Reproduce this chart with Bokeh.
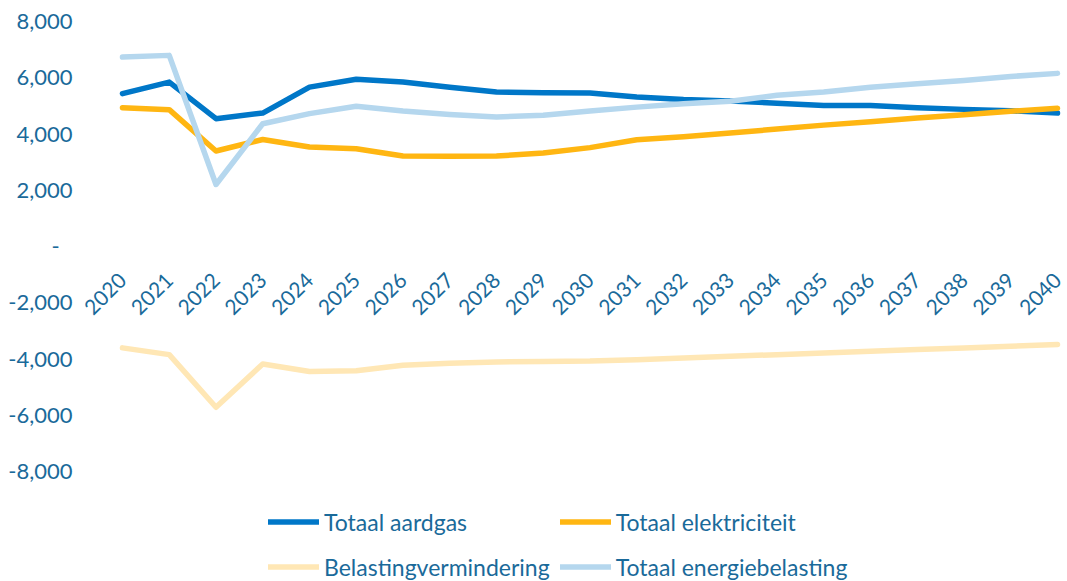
from math import pi
from bokeh.plotting import figure
from bokeh.models import (Range1d, FixedTicker, NumeralTickFormatter, Legend, LegendItem,
                          ColumnDataSource)
from bokeh.embed import file_html
from bokeh.resources import INLINE

years = [2020, 2021, 2022, 2023, 2024, 2025, 2026, 2027, 2028, 2029, 2030,
         2031, 2032, 2033, 2034, 2035, 2036, 2037, 2038, 2039, 2040]
year_labels = [str(y) for y in years]

aardgas = [5400, 5810, 4510, 4710, 5630, 5910, 5810, 5630, 5460, 5430, 5420,
           5280, 5190, 5140, 5060, 4980, 4980, 4900, 4840, 4790, 4710]
elektriciteit = [4900, 4830, 3360, 3770, 3500, 3440, 3180, 3170, 3180, 3290, 3480,
                 3760, 3870, 4000, 4140, 4280, 4400, 4530, 4650, 4770, 4880]
vermindering = [-3640, -3880, -5750, -4210, -4480, -4450, -4260, -4190, -4140, -4120, -4110,
                -4060, -4000, -3940, -3880, -3820, -3760, -3700, -3640, -3580, -3520]
energiebelasting = [6700, 6760, 2170, 4330, 4690, 4950, 4780, 4660, 4570, 4630, 4780,
                    4920, 5040, 5130, 5340, 5460, 5630, 5750, 5870, 6010, 6120]

series_names = ["Totaal aardgas", "Totaal elektriciteit", "Belastingvermindering", "Totaal energiebelasting"]
series_colors = ["#0077C8", "#FFB612", "#FFE7B5", "#B5D7EE"]
y_ticks = [-8000, -6000, -4000, -2000, 0, 2000, 4000, 6000, 8000]

TEXT = "#1A6A9A"
FONT = "Lato"

p = figure(width=1067, height=581, output_backend="svg", toolbar_location=None,
           x_range=Range1d(2019.102, 2040.214), y_range=Range1d(-11946, 8711),
           min_border_left=80, min_border_right=0, min_border_top=0, min_border_bottom=0)
p.outline_line_color = None
p.xgrid.visible = False
p.ygrid.visible = False
p.background_fill_color = "white"
p.border_fill_color = "white"

# y axis
yax = p.yaxis[0]
yax.ticker = FixedTicker(ticks=y_ticks)
yax.formatter = NumeralTickFormatter(format="0,0")
yax.major_label_overrides = {0: "-\u2007"}
yax.axis_line_color = None
yax.major_tick_line_color = None
yax.minor_tick_line_color = None
yax.major_tick_out = 0
yax.major_tick_in = 0
yax.major_label_standoff = 8
yax.major_label_text_font = FONT
yax.major_label_text_font_size = "22px"
yax.major_label_text_color = TEXT

# x axis at y = 0
xax = p.xaxis[0]
xax.fixed_location = 0
xax.ticker = FixedTicker(ticks=years)
xax.major_label_overrides = {y: l for y, l in zip(years, year_labels)}
xax.major_label_orientation = pi / 4
xax.axis_line_color = None
xax.major_tick_line_color = None
xax.minor_tick_line_color = None
xax.major_label_standoff = 25
xax.major_label_text_font = FONT
xax.major_label_text_font_size = "21px"
xax.major_label_text_color = TEXT

src = ColumnDataSource(dict(year=years, a=aardgas, e=elektriciteit, v=vermindering, t=energiebelasting))
renderers = []
for col, color in zip(["a", "e", "v", "t"], series_colors):
    r = p.line("year", col, source=src, line_color=color, line_width=5.5,
               line_cap="round", line_join="round")
    renderers.append(r)

# legend laid out row by row: (aardgas, elektriciteit) / (vermindering, energiebelasting)
order = [0, 2, 1, 3]
items = [LegendItem(label=series_names[i], renderers=[renderers[i]]) for i in order]
legend = Legend(items=items, location=(188, -3), ncols=2,
                label_text_font=FONT, label_text_font_size="23px", label_text_color=TEXT,
                glyph_width=51, glyph_height=35, label_height=35,
                label_standoff=5, spacing=10, padding=0, margin=0,
                border_line_color=None, background_fill_alpha=0)
p.add_layout(legend)

open("out.html", "w").write(file_html(p, INLINE))
